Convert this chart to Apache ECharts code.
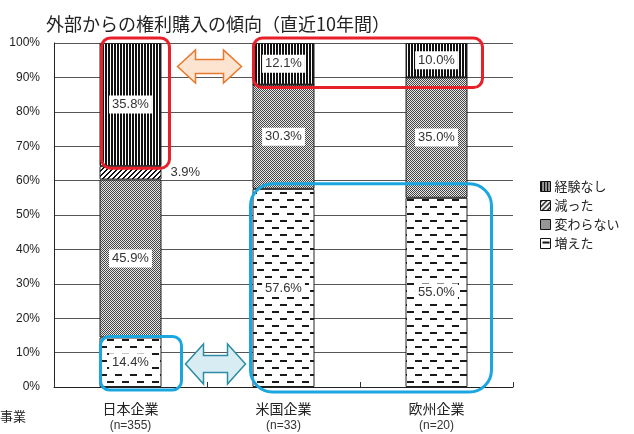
<!DOCTYPE html>
<html>
<head>
<meta charset="utf-8">
<script src="https://cdn.jsdelivr.net/npm/echarts@6/dist/echarts.min.js"></script>
<style>
  html, body { margin: 0; padding: 0; background: #fff; }
  #chart { width: 634px; height: 434px; }
</style>
</head>
<body>
<div id="chart"></div>
<script>
// Stacked share of rights purchases from outside, last 10 years
const categories = ['日本企業', '米国企業', '欧州企業'];
const sampleSizes = ['(n=355)', '(n=33)', '(n=20)'];
const yTicks = [0, 10, 20, 30, 40, 50, 60, 70, 80, 90, 100];

const seriesNames = ['増えた', '変わらない', '減った', '経験なし'];   // bottom to top
const increased  = [14.4, 57.6, 55.0];
const unchanged  = [45.9, 30.3, 35.0];
const decreased  = [3.9, 0, 0];
const noExperience = [35.8, 12.1, 10.0];

// ---- fill patterns ----
function tile(w, h, draw) {
  const c = document.createElement('canvas');
  c.width = w; c.height = h;
  const g = c.getContext('2d');
  draw(g, w, h);
  return c;
}
const stripePattern = tile(3, 4, (g, w, h) => {
  g.fillStyle = '#111'; g.fillRect(0, 0, w, h);
  g.fillStyle = '#fff'; g.fillRect(2, 0, 1, h);
});
const hatchPattern = tile(5, 5, (g, w, h) => {
  g.fillStyle = '#fff'; g.fillRect(0, 0, w, h);
  g.fillStyle = '#111';
  for (let x = 0; x < w; x++) for (let y = 0; y < h; y++) {
    if ((x + y) % 5 < 2) g.fillRect(x, y, 1, 1);
  }
});
const dotPattern = tile(2, 2, (g, w, h) => {
  g.fillStyle = '#e8e8e8'; g.fillRect(0, 0, w, h);
  g.fillStyle = '#444'; g.fillRect(0, 0, 1, 1); g.fillRect(1, 1, 1, 1);
});
const dashPattern = tile(15, 14, (g, w, h) => {
  g.fillStyle = '#fff'; g.fillRect(0, 0, w, h);
  g.fillStyle = '#1a1a1a';
  g.fillRect(2, 3, 7, 2);
  g.fillRect(10, 10, 7, 2);
  g.fillRect(-5, 10, 7, 2);
});
const fills = {
  '増えた': dashPattern,
  '変わらない': dotPattern,
  '減った': hatchPattern,
  '経験なし': stripePattern
};
const seriesData = {
  '増えた': increased,
  '変わらない': unchanged,
  '減った': decreased,
  '経験なし': noExperience
};

const labelFont = { fontFamily: 'Liberation Sans, Arial, sans-serif', fontSize: 13, color: '#333' };

function buildSeries(name) {
  return {
    name: name,
    type: 'bar',
    stack: 'share',
    barWidth: 62,
    itemStyle: {
      color: { image: fills[name], repeat: 'repeat' },
      borderColor: '#222',
      borderWidth: 1
    },
    label: name === '減った'
      ? Object.assign({ show: true, position: 'right', distance: 9,
          formatter: p => p.value.toFixed(1) + '%' }, labelFont)
      : Object.assign({ show: true, position: 'inside',
          backgroundColor: '#fff', padding: [3, 3, 2, 3],
          formatter: p => p.value.toFixed(1) + '%' }, labelFont),
    emphasis: { disabled: true },
    data: seriesData[name].map(v => v === 0 ? { value: v, label: { show: false } } : v)
  };
}

const chart = echarts.init(document.getElementById('chart'), null, { renderer: 'canvas' });

const option = {
  animation: false,
  backgroundColor: '#fff',
  grid: { left: 54, right: 121, top: 43, bottom: 47 },
  legend: {
    orient: 'vertical',
    left: 535, top: 175,
    itemWidth: 10, itemHeight: 10, itemGap: 6,
    icon: 'rect',
    data: ['経験なし', '減った', '変わらない', '増えた'],
    itemStyle: { borderColor: '#111', borderWidth: 1 },
    textStyle: { fontFamily: 'Noto Sans CJK JP', fontSize: 13, color: '#222', padding: [0, 0, 0, -1] }
  },
  xAxis: {
    type: 'category',
    data: categories,
    axisLine: { lineStyle: { color: '#222', width: 1 } },
    axisTick: { show: true, inside: true, length: 5, lineStyle: { color: '#333' } },
    axisLabel: {
      margin: 13,
      interval: 0,
      formatter: (v, i) => '{a|' + v + '}\n{b|' + sampleSizes[i] + '}',
      rich: {
        a: { fontFamily: 'Noto Sans CJK JP', fontSize: 14, color: '#222', lineHeight: 17 },
        b: { fontFamily: 'Liberation Sans, sans-serif', fontSize: 12, color: '#333', lineHeight: 17 }
      }
    }
  },
  yAxis: {
    type: 'value',
    min: yTicks[0], max: yTicks[yTicks.length - 1], interval: 10,
    axisLine: { show: true, lineStyle: { color: '#222' } },
    axisTick: { show: false },
    splitLine: { lineStyle: { color: '#555', width: 1 } },
    axisLabel: {
      margin: 14,
      formatter: v => v + '%',
      fontFamily: 'Liberation Sans, Arial, sans-serif', fontSize: 12, color: '#222'
    }
  },
  series: seriesNames.map(buildSeries)
};
chart.setOption(option);

// ---- callouts placed from the axis scales ----
const px = i => chart.convertToPixel({ gridIndex: 0 }, [i, 0])[0];
const py = v => chart.convertToPixel({ gridIndex: 0 }, [0, v])[1];

function roundBox(x1, y1, x2, y2, r, color) {
  return {
    type: 'rect', silent: true, z: 100,
    shape: { x: x1, y: y1, width: x2 - x1, height: y2 - y1, r: r },
    style: { fill: 'none', stroke: color, lineWidth: 3 }
  };
}
function doubleArrow(cx, cy, w, h, shaftH, headL, fill, stroke) {
  const x1 = cx - w / 2, x2 = cx + w / 2;
  const t = cy - h / 2, b = cy + h / 2, st = cy - shaftH / 2, sb = cy + shaftH / 2;
  return {
    type: 'polygon', silent: true, z: 100,
    shape: { points: [
      [x1, cy], [x1 + headL, t], [x1 + headL, st], [x2 - headL, st], [x2 - headL, t],
      [x2, cy], [x2 - headL, b], [x2 - headL, sb], [x1 + headL, sb], [x1 + headL, b]
    ] },
    style: { fill: fill, stroke: stroke, lineWidth: 1.5 }
  };
}

const red = '#e8202a', blue = '#1aa7e0';
const jpTopBase = increased[0] + unchanged[0] + decreased[0];
const usTopBase = increased[1] + unchanged[1] + decreased[1];

chart.setOption({
  graphic: [
    {
      type: 'text', silent: true,
      style: {
        text: '外部からの権利購入の傾向（直近10年間）',
        x: 218, y: 24, textAlign: 'center', textVerticalAlign: 'middle',
        font: '18px "Noto Sans CJK JP"', fill: '#222'
      }
    },
    {
      type: 'text', silent: true,
      style: {
        text: '事業', x: 0, y: 416, textVerticalAlign: 'middle',
        font: '13px "Noto Sans CJK JP"', fill: '#222'
      }
    },
    roundBox(px(0) - 29, py(100) - 5, px(0) + 39, py(jpTopBase) + 2, 9, red),
    roundBox(px(1) - 30, py(100) - 5, px(2) + 46, py(usTopBase) + 3, 9, red),
    roundBox(px(0) - 30, py(increased[0]) - 1, px(0) + 51, py(0) + 3, 9, blue),
    roundBox(px(1) - 33, py(increased[1]) - 5, px(2) + 55, py(0) + 5, 22, blue),
    doubleArrow((px(0) + px(1)) / 2 + 2.5, 66.5, 64, 33, 14, 18, '#fde4d0', '#e8782c'),
    doubleArrow((px(0) + px(1)) / 2 + 8.5, 364, 60, 40, 17, 18, '#d8edf3', '#2c8ca3')
  ]
});
</script>
</body>
</html>
